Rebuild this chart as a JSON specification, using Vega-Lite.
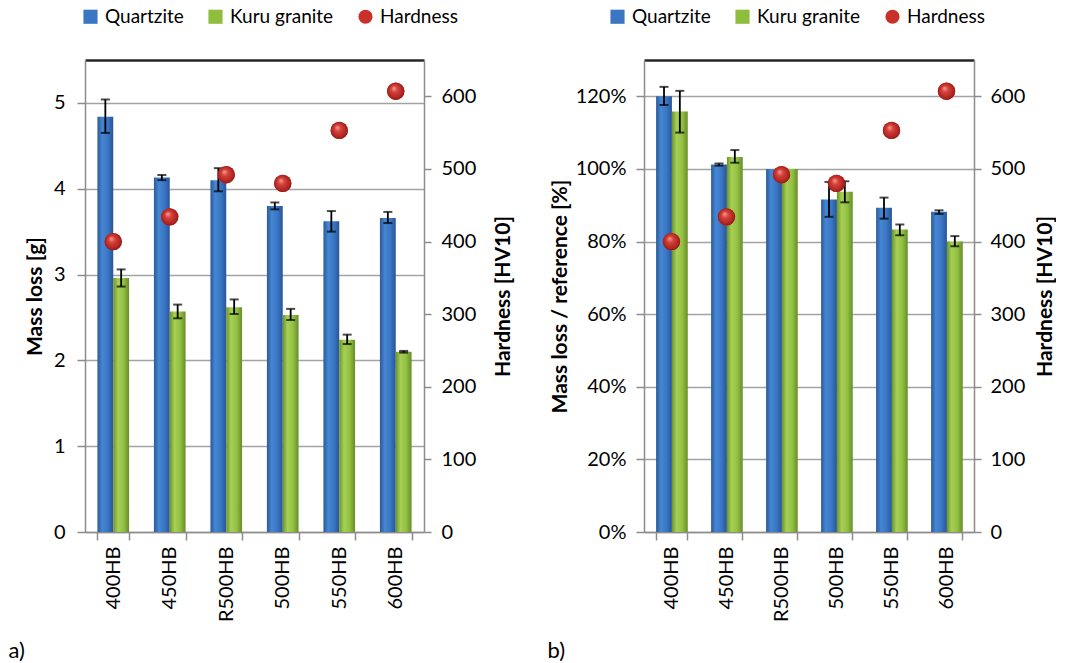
{
  "$schema": "https://vega.github.io/schema/vega-lite/v6.json",
  "background": "white",
  "padding": {"left": 8, "top": 7, "right": 0, "bottom": 0},
  "spacing": 33,
  "datasets": {
    "massloss": [
      {"grade": "400HB", "series": "Quartzite", "value": 4.84, "lo": 4.65, "hi": 5.04},
      {"grade": "450HB", "series": "Quartzite", "value": 4.13, "lo": 4.10, "hi": 4.16},
      {"grade": "R500HB", "series": "Quartzite", "value": 4.10, "lo": 3.97, "hi": 4.24},
      {"grade": "500HB", "series": "Quartzite", "value": 3.80, "lo": 3.76, "hi": 3.84},
      {"grade": "550HB", "series": "Quartzite", "value": 3.62, "lo": 3.50, "hi": 3.74},
      {"grade": "600HB", "series": "Quartzite", "value": 3.66, "lo": 3.60, "hi": 3.73},
      {"grade": "400HB", "series": "Kuru granite", "value": 2.96, "lo": 2.86, "hi": 3.06},
      {"grade": "450HB", "series": "Kuru granite", "value": 2.57, "lo": 2.49, "hi": 2.65},
      {"grade": "R500HB", "series": "Kuru granite", "value": 2.62, "lo": 2.54, "hi": 2.71},
      {"grade": "500HB", "series": "Kuru granite", "value": 2.53, "lo": 2.47, "hi": 2.60},
      {"grade": "550HB", "series": "Kuru granite", "value": 2.24, "lo": 2.19, "hi": 2.30},
      {"grade": "600HB", "series": "Kuru granite", "value": 2.10, "lo": 2.09, "hi": 2.11}
    ],
    "relative": [
      {"grade": "400HB", "series": "Quartzite", "value": 1.200, "lo": 1.176, "hi": 1.226},
      {"grade": "450HB", "series": "Quartzite", "value": 1.012, "lo": 1.009, "hi": 1.015},
      {"grade": "R500HB", "series": "Quartzite", "value": 1.000},
      {"grade": "500HB", "series": "Quartzite", "value": 0.916, "lo": 0.868, "hi": 0.964},
      {"grade": "550HB", "series": "Quartzite", "value": 0.893, "lo": 0.863, "hi": 0.921},
      {"grade": "600HB", "series": "Quartzite", "value": 0.882, "lo": 0.876, "hi": 0.886},
      {"grade": "400HB", "series": "Kuru granite", "value": 1.158, "lo": 1.100, "hi": 1.215},
      {"grade": "450HB", "series": "Kuru granite", "value": 1.033, "lo": 1.017, "hi": 1.052},
      {"grade": "R500HB", "series": "Kuru granite", "value": 1.000},
      {"grade": "500HB", "series": "Kuru granite", "value": 0.937, "lo": 0.908, "hi": 0.966},
      {"grade": "550HB", "series": "Kuru granite", "value": 0.833, "lo": 0.817, "hi": 0.847},
      {"grade": "600HB", "series": "Kuru granite", "value": 0.800, "lo": 0.787, "hi": 0.815}
    ],
    "hardness": [
      {"grade": "400HB", "series": "Hardness", "hv": 400},
      {"grade": "450HB", "series": "Hardness", "hv": 434},
      {"grade": "R500HB", "series": "Hardness", "hv": 492},
      {"grade": "500HB", "series": "Hardness", "hv": 480},
      {"grade": "550HB", "series": "Hardness", "hv": 553},
      {"grade": "600HB", "series": "Hardness", "hv": 607}
    ]
  },
  "hconcat": [
    {
      "width": 339,
      "height": 472,
      "layer": [
        {
          "data": {"name": "massloss"},
          "transform": [{"filter": "datum.series === 'Quartzite'"}],
          "mark": {"type": "bar", "color": {"gradient": "linear", "x1": 0, "x2": 1, "y1": 0, "y2": 0, "stops": [{"offset": 0, "color": "#2a5996"}, {"offset": 0.3, "color": "#4686d4"}, {"offset": 0.65, "color": "#3a77c4"}, {"offset": 1, "color": "#28559a"}]}},
          "encoding": {
            "x": {"field": "grade", "type": "nominal", "scale": {"domain": ["400HB", "450HB", "R500HB", "500HB", "550HB", "600HB"], "paddingInner": 0.44, "paddingOuter": 0.22},
                  "axis": {"orient": "bottom", "labelAngle": 270, "labelPadding": 6, "tickBand": "extent", "tickSize": 8, "title": "a)", "titleFontWeight": "normal", "titleFontSize": 22, "titleAlign": "left", "titleBaseline": "alphabetic", "titleX": -77, "titleY": 125}},
            "xOffset": {"field": "series", "type": "nominal", "scale": {"domain": ["Quartzite", "Kuru granite"], "paddingInner": 0, "paddingOuter": 0}},
            "y": {"field": "value", "type": "quantitative", "scale": {"domain": [0, 5.5], "nice": false},
                  "axis": {"orient": "left", "values": [0, 1, 2, 3, 4, 5], "grid": true, "title": "Mass loss [g]", "tickSize": 8, "labelPadding": 12, "titlePadding": 8}}
          }
        },
        {
          "data": {"name": "massloss"},
          "transform": [{"filter": "datum.series === 'Kuru granite'"}],
          "mark": {"type": "bar", "color": {"gradient": "linear", "x1": 0, "x2": 1, "y1": 0, "y2": 0, "stops": [{"offset": 0, "color": "#6b9429"}, {"offset": 0.3, "color": "#a6d055"}, {"offset": 0.65, "color": "#93c143"}, {"offset": 1, "color": "#668d27"}]}},
          "encoding": {
            "x": {"field": "grade", "type": "nominal", "axis": null},
            "xOffset": {"field": "series", "type": "nominal"},
            "y": {"field": "value", "type": "quantitative", "scale": {"domain": [0, 5.5], "nice": false}, "axis": null}
          }
        },
        {
          "data": {"name": "massloss"},
          "mark": {"type": "rule", "color": "#000000", "strokeWidth": 1.8},
          "encoding": {
            "x": {"field": "grade", "type": "nominal", "axis": null},
            "xOffset": {"field": "series", "type": "nominal"},
            "y": {"field": "lo", "type": "quantitative", "scale": {"domain": [0, 5.5], "nice": false}, "axis": null},
            "y2": {"field": "hi"}
          }
        },
        {
          "data": {"name": "massloss"},
          "mark": {"type": "tick", "color": "#000000", "size": 9, "thickness": 2},
          "encoding": {
            "x": {"field": "grade", "type": "nominal", "axis": null},
            "xOffset": {"field": "series", "type": "nominal"},
            "y": {"field": "lo", "type": "quantitative", "scale": {"domain": [0, 5.5], "nice": false}, "axis": null}
          }
        },
        {
          "data": {"name": "massloss"},
          "mark": {"type": "tick", "color": "#000000", "size": 9, "thickness": 2},
          "encoding": {
            "x": {"field": "grade", "type": "nominal", "axis": null},
            "xOffset": {"field": "series", "type": "nominal"},
            "y": {"field": "hi", "type": "quantitative", "scale": {"domain": [0, 5.5], "nice": false}, "axis": null}
          }
        },
        {
          "data": {"name": "hardness"},
          "mark": {"type": "point", "filled": true, "opacity": 1, "size": 300},
          "encoding": {
            "x": {"field": "grade", "type": "nominal", "scale": {"domain": ["400HB", "450HB", "R500HB", "500HB", "550HB", "600HB"], "paddingInner": 0.44, "paddingOuter": 0.22},
                  "axis": {"orient": "top", "labels": false, "ticks": false, "title": null, "domainColor": "#262626", "domainWidth": 2.5}},
            "y": {"field": "hv", "type": "quantitative", "scale": {"domain": [0, 650], "nice": false},
                  "axis": {"orient": "right", "values": [0, 100, 200, 300, 400, 500, 600], "grid": false, "title": "Hardness [HV10]", "titleAngle": 270, "titleBaseline": "top", "tickSize": 7, "labelPadding": 10, "titlePadding": 17}},
            "color": {"field": "series", "type": "nominal",
                      "scale": {"domain": ["Quartzite", "Kuru granite", "Hardness"], "range": ["#3a76c2", "#8fbd3e", "#c9302a"]},
                      "legend": {"orient": "none", "legendX": -4, "legendY": -53, "direction": "horizontal", "title": null}},
            "shape": {"field": "series", "type": "nominal",
                      "scale": {"domain": ["Quartzite", "Kuru granite", "Hardness"], "range": ["square", "square", "circle"]},
                      "legend": {"orient": "none", "legendX": -4, "legendY": -53, "direction": "horizontal", "title": null}}
          }
        },
        {
          "data": {"name": "hardness"},
          "mark": {"type": "point", "shape": "circle", "filled": true, "opacity": 1, "size": 300,
                   "color": {"gradient": "radial", "x1": 0.38, "y1": 0.32, "r1": 0, "x2": 0.5, "y2": 0.5, "r2": 0.55, "stops": [{"offset": 0, "color": "#f4a096"}, {"offset": 0.35, "color": "#d6403a"}, {"offset": 0.8, "color": "#ad241f"}, {"offset": 1, "color": "#7e1612"}]}},
          "encoding": {
            "x": {"field": "grade", "type": "nominal", "axis": null},
            "y": {"field": "hv", "type": "quantitative", "scale": {"domain": [0, 650], "nice": false}, "axis": null}
          }
        }
      ],
      "resolve": {"scale": {"y": "independent"}}
    },
    {
      "width": 330,
      "height": 472,
      "layer": [
        {
          "data": {"name": "relative"},
          "transform": [{"filter": "datum.series === 'Quartzite'"}],
          "mark": {"type": "bar", "color": {"gradient": "linear", "x1": 0, "x2": 1, "y1": 0, "y2": 0, "stops": [{"offset": 0, "color": "#2a5996"}, {"offset": 0.3, "color": "#4686d4"}, {"offset": 0.65, "color": "#3a77c4"}, {"offset": 1, "color": "#28559a"}]}},
          "encoding": {
            "x": {"field": "grade", "type": "nominal", "scale": {"domain": ["400HB", "450HB", "R500HB", "500HB", "550HB", "600HB"], "paddingInner": 0.44, "paddingOuter": 0.22},
                  "axis": {"orient": "bottom", "labelAngle": 270, "labelPadding": 6, "tickBand": "extent", "tickSize": 8, "title": "b)", "titleFontWeight": "normal", "titleFontSize": 22, "titleAlign": "left", "titleBaseline": "alphabetic", "titleX": -97, "titleY": 125}},
            "xOffset": {"field": "series", "type": "nominal", "scale": {"domain": ["Quartzite", "Kuru granite"], "paddingInner": 0, "paddingOuter": 0}},
            "y": {"field": "value", "type": "quantitative", "scale": {"domain": [0, 1.3], "nice": false},
                  "axis": {"orient": "left", "values": [0, 0.2, 0.4, 0.6, 0.8, 1.0, 1.2], "format": ".0%", "grid": true, "title": "Mass loss / reference [%]", "tickSize": 8, "labelPadding": 10, "titlePadding": 5}}
          }
        },
        {
          "data": {"name": "relative"},
          "transform": [{"filter": "datum.series === 'Kuru granite'"}],
          "mark": {"type": "bar", "color": {"gradient": "linear", "x1": 0, "x2": 1, "y1": 0, "y2": 0, "stops": [{"offset": 0, "color": "#6b9429"}, {"offset": 0.3, "color": "#a6d055"}, {"offset": 0.65, "color": "#93c143"}, {"offset": 1, "color": "#668d27"}]}},
          "encoding": {
            "x": {"field": "grade", "type": "nominal", "axis": null},
            "xOffset": {"field": "series", "type": "nominal"},
            "y": {"field": "value", "type": "quantitative", "scale": {"domain": [0, 1.3], "nice": false}, "axis": null}
          }
        },
        {
          "data": {"name": "relative"},
          "transform": [{"filter": "isValid(datum.lo)"}],
          "mark": {"type": "rule", "color": "#000000", "strokeWidth": 1.8},
          "encoding": {
            "x": {"field": "grade", "type": "nominal", "axis": null},
            "xOffset": {"field": "series", "type": "nominal"},
            "y": {"field": "lo", "type": "quantitative", "scale": {"domain": [0, 1.3], "nice": false}, "axis": null},
            "y2": {"field": "hi"}
          }
        },
        {
          "data": {"name": "relative"},
          "transform": [{"filter": "isValid(datum.lo)"}],
          "mark": {"type": "tick", "color": "#000000", "size": 9, "thickness": 2},
          "encoding": {
            "x": {"field": "grade", "type": "nominal", "axis": null},
            "xOffset": {"field": "series", "type": "nominal"},
            "y": {"field": "lo", "type": "quantitative", "scale": {"domain": [0, 1.3], "nice": false}, "axis": null}
          }
        },
        {
          "data": {"name": "relative"},
          "transform": [{"filter": "isValid(datum.hi)"}],
          "mark": {"type": "tick", "color": "#000000", "size": 9, "thickness": 2},
          "encoding": {
            "x": {"field": "grade", "type": "nominal", "axis": null},
            "xOffset": {"field": "series", "type": "nominal"},
            "y": {"field": "hi", "type": "quantitative", "scale": {"domain": [0, 1.3], "nice": false}, "axis": null}
          }
        },
        {
          "data": {"name": "hardness"},
          "mark": {"type": "point", "filled": true, "opacity": 1, "size": 300},
          "encoding": {
            "x": {"field": "grade", "type": "nominal", "scale": {"domain": ["400HB", "450HB", "R500HB", "500HB", "550HB", "600HB"], "paddingInner": 0.44, "paddingOuter": 0.22},
                  "axis": {"orient": "top", "labels": false, "ticks": false, "title": null, "domainColor": "#262626", "domainWidth": 2.5}},
            "y": {"field": "hv", "type": "quantitative", "scale": {"domain": [0, 650], "nice": false},
                  "axis": {"orient": "right", "values": [0, 100, 200, 300, 400, 500, 600], "grid": false, "title": "Hardness [HV10]", "titleAngle": 270, "titleBaseline": "top", "tickSize": 7, "labelPadding": 9, "titlePadding": 10}},
            "color": {"field": "series", "type": "nominal",
                      "scale": {"domain": ["Quartzite", "Kuru granite", "Hardness"], "range": ["#3a76c2", "#8fbd3e", "#c9302a"]},
                      "legend": {"orient": "none", "legendX": -36, "legendY": -53, "direction": "horizontal", "title": null}},
            "shape": {"field": "series", "type": "nominal",
                      "scale": {"domain": ["Quartzite", "Kuru granite", "Hardness"], "range": ["square", "square", "circle"]},
                      "legend": {"orient": "none", "legendX": -36, "legendY": -53, "direction": "horizontal", "title": null}}
          }
        },
        {
          "data": {"name": "hardness"},
          "mark": {"type": "point", "shape": "circle", "filled": true, "opacity": 1, "size": 300,
                   "color": {"gradient": "radial", "x1": 0.38, "y1": 0.32, "r1": 0, "x2": 0.5, "y2": 0.5, "r2": 0.55, "stops": [{"offset": 0, "color": "#f4a096"}, {"offset": 0.35, "color": "#d6403a"}, {"offset": 0.8, "color": "#ad241f"}, {"offset": 1, "color": "#7e1612"}]}},
          "encoding": {
            "x": {"field": "grade", "type": "nominal", "axis": null},
            "y": {"field": "hv", "type": "quantitative", "scale": {"domain": [0, 650], "nice": false}, "axis": null}
          }
        }
      ],
      "resolve": {"scale": {"y": "independent"}}
    }
  ],
  "resolve": {"scale": {"color": "independent", "shape": "independent"}, "legend": {"color": "independent", "shape": "independent"}},
  "config": {
    "font": "Lato",
    "view": {"stroke": null},
    "axis": {
      "labelFont": "Lato", "titleFont": "Lato", "labelColor": "#000000", "titleColor": "#000000",
      "labelFontSize": 20, "titleFontSize": 21, "titleFontWeight": "bold",
      "domainColor": "#8c8c8c", "domainWidth": 1.5, "tickColor": "#8c8c8c", "tickWidth": 1.5, "tickSize": 6,
      "gridColor": "#a3a3a3", "gridWidth": 1.5, "labelPadding": 6
    },
    "legend": {
      "labelFont": "Lato", "labelFontSize": 19, "labelColor": "#000000", "labelOffset": 5,
      "columnPadding": 22, "padding": 0, "symbolSize": 200
    }
  }
}
